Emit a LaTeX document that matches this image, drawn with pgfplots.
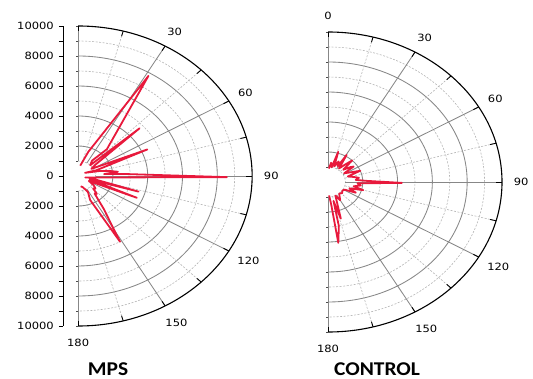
\documentclass[border=0pt]{standalone}
\usepackage{fontspec}
\usepackage{pgfplots}
\usepackage{pgfplotstable}
\pgfplotsset{compat=1.18}
\newfontfamily\lblfont{DejaVu Sans}
\newfontfamily\capfont{Carlito}
\definecolor{polred}{RGB}{232,25,60}
\definecolor{gridsolid}{RGB}{135,135,135}
\definecolor{griddash}{RGB}{180,180,180}

\pgfplotstableread{
a r
10 700
20 1720
31.2 7800
42.8 2430
38 1300
44 1000
48 4750
53 1200
58 900
66 4350
70 1100
62 450
75 1300
80 1900
83 2300
85 1500
87 2600
90.5 8550
104 420
100 600
106.7 3620
109 700
113.3 3670
118 700
125 1100
130 1300
134 1200
138 1600
141 1500
144 2000
146 2600
151.2 5000
156.7 1740
152 1200
160 800
168 700
}\mpsdata

\pgfplotstableread{
a r
3 900
8 1300
12 1000
16.3 2100
19 1100
24 1500
28 1200
30.7 2100
35 1100
40 1500
44 2000
47 1200
52 1600
55 1800
58 1100
63 1400
68 2000
72 1200
77 1500
81 1800
85 1600
88 2200
90.8 4250
93 1700
97 1900
101 1500
105 2100
109 1300
114 1750
118 1100
124 1000
132 1100
140 1000
146 1200
150 1400
155 1000
160 1600
163.2 2550
166 1300
168 3000
171.7 4100
173 1500
176 900
}\ctrldata

\newcommand{\lblfnt}{\lblfont\fontsize{10}{12}\selectfont}

\newcommand{\polargrid}[1]{%
  \pgfplotsinvokeforeach{1000,3000,5000,7000,9000}{%
    \draw[griddash, dash pattern=on 2pt off 1.5pt, line width=0.6pt]
      (axis cs:0,##1) arc[start angle=90,end angle=-90,x radius={##1*0.0174pt}, y radius={##1*0.015pt}];
  }%
  \pgfplotsinvokeforeach{2000,4000,6000,8000}{%
    \draw[gridsolid, line width=0.85pt]
      (axis cs:0,##1) arc[start angle=90,end angle=-90,x radius={##1*0.0174pt}, y radius={##1*0.015pt}];
  }%
  \pgfplotsinvokeforeach{15,45,75,105,135,165}{%
    \draw[griddash, dash pattern=on 2pt off 1.5pt, line width=0.6pt]
      (axis cs:{1000*sin(##1)},{1000*cos(##1)}) -- (axis cs:{10000*sin(##1)},{10000*cos(##1)});
  }%
  \pgfplotsinvokeforeach{30,60,90,120,150}{%
    \draw[gridsolid, line width=0.85pt]
      (axis cs:{1000*sin(##1)},{1000*cos(##1)}) -- (axis cs:{10000*sin(##1)},{10000*cos(##1)});
  }%
  \draw[gridsolid, line width=0.85pt] (axis cs:0,1000) -- (axis cs:0,10000);
  \draw[gridsolid, line width=0.85pt] (axis cs:0,-1000) -- (axis cs:0,-10000);
  \pgfplotsinvokeforeach{1000,2000,3000,4000,5000,6000,7000,8000,9000,10000}{%
    \draw[black!70, line width=0.6pt] (axis cs:0,##1) -- ([xshift=-2.5pt]axis cs:0,##1);
    \draw[black!70, line width=0.6pt] (axis cs:0,-##1) -- ([xshift=-2.5pt]axis cs:0,-##1);
  }%
  \draw[black, line width=1.1pt]
    (axis cs:0,10000) arc[start angle=90,end angle=-90,x radius=174pt, y radius=150pt];
  \pgfplotsinvokeforeach{0,15,30,45,60,75,90,105,120,135,150,165,180}{%
    \draw[black, line width=0.9pt]
      (axis cs:{10000*sin(##1)},{10000*cos(##1)}) -- (axis cs:{9650*sin(##1)},{9650*cos(##1)});
  }%
  \pgfplotsinvokeforeach{#1}{%
    \node[font=\lblfnt, xscale=1.15, inner sep=0pt] at (axis cs:{11100*sin(##1)},{11100*cos(##1)}) {##1};
  }%
  \node[font=\lblfnt, xscale=1.15, inner sep=0pt] at (axis cs:{11300*sin(120)},{11300*cos(120)}) {120};
  \node[font=\lblfnt, xscale=1.15, inner sep=0pt] at (axis cs:{11300*sin(150)},{11300*cos(150)}) {150};
}

\begin{document}
\begin{tikzpicture}
\useasboundingbox (0,0) rectangle (533pt,-379pt);
\begin{axis}[
  at={(63pt,-326pt)}, anchor=south west,
  scale only axis, width=189.14pt, height=300pt,
  xmin=-870, xmax=10000, ymin=-10000, ymax=10000,
  axis x line=none, axis y line*=left,
  scaled y ticks=false,
  ytick={-10000,-8000,...,10000},
  yticklabels={10000,8000,6000,4000,2000,0,2000,4000,6000,8000,10000},
  minor y tick num=1,
  tick align=outside, major tick length=4pt, minor tick length=4pt,
  tick style={black, line width=0.8pt},
  y axis line style={black, line width=0.9pt},
  yticklabel style={font=\lblfnt, xscale=1.15, xshift=-1pt},
  /pgf/number format/assume math mode=true,
  clip=false,
]
\polargrid{30,60,90,180}
\addplot[polred, line width=1.8pt, line join=round, no markers]
  table[x expr={\thisrow{r}*sin(\thisrow{a})}, y expr={\thisrow{r}*cos(\thisrow{a})}] {\mpsdata};
\end{axis}

\begin{axis}[
  at={(328pt,-332pt)}, anchor=south west,
  scale only axis, width=174pt, height=300pt,
  xmin=0, xmax=10000, ymin=-10000, ymax=10000,
  axis lines=none,
  clip=false,
]
\polargrid{0,30,60,90,180}
\addplot[polred, line width=1.8pt, line join=round, no markers]
  table[x expr={\thisrow{r}*sin(\thisrow{a})}, y expr={\thisrow{r}*cos(\thisrow{a})}] {\ctrldata};
\end{axis}

\node[font=\capfont\bfseries\fontsize{19.5}{23}\selectfont, xscale=1.1, anchor=base] at (108pt,-375.5pt) {MPS};
\node[font=\capfont\bfseries\fontsize{19.5}{23}\selectfont, xscale=1.1, anchor=base] at (377pt,-375.5pt) {CONTROL};
\end{tikzpicture}
\end{document}
